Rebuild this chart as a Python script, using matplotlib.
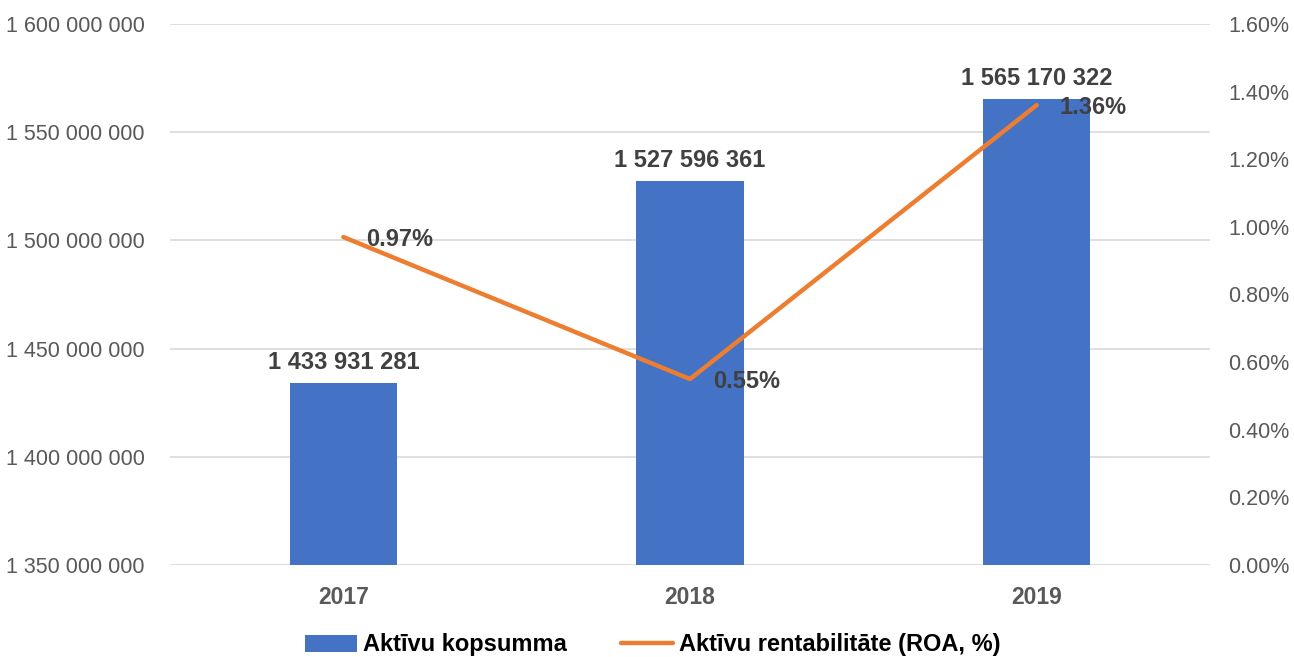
import matplotlib.pyplot as plt
from matplotlib.ticker import FuncFormatter, MultipleLocator

plt.rcParams['font.family'] = ['Liberation Sans', 'DejaVu Sans']

years = ["2017", "2018", "2019"]
total_assets = [1433931281, 1527596361, 1565170322]
roa_pct = [0.97, 0.55, 1.36]

BLUE = "#4472C4"
ORANGE = "#ED7D31"
LABEL = "#404040"
TICK = "#595959"


def spaced(v, pos=None):
    return f"{int(round(v)):,}".replace(",", " ")


fig = plt.figure(figsize=(12.94, 6.57), dpi=100)
ax = fig.add_axes([170 / 1294, 1 - 565 / 657, 1040 / 1294, 541 / 657])
ax2 = ax.twinx()

x = list(range(len(years)))
bars = ax.bar(x, total_assets, width=0.31, color=BLUE, zorder=2, label="Aktīvu kopsumma")
ax.set_xlim(-0.5, 2.5)
ax.set_ylim(1.35e9, 1.6e9)
ax.yaxis.set_major_locator(MultipleLocator(5e7))
ax.yaxis.set_major_formatter(FuncFormatter(spaced))
ax.grid(axis="y", color="#D9D9D9", lw=1.2, zorder=0)
ax.set_axisbelow(True)
ax.set_xticks(x)
ax.set_xticklabels(years, fontsize=16.5, fontweight="bold", color=TICK)
ax.tick_params(axis="x", length=0, pad=15)
ax.tick_params(axis="y", length=0, pad=18, labelsize=15.5, labelcolor=TICK)
for s in ax.spines.values():
    s.set_visible(False)

# value labels above bars
for xi, v in zip(x, total_assets):
    ax.annotate(spaced(v), (xi, v), xytext=(0, 9), textcoords="offset pixels",
                ha="center", va="bottom", fontsize=17, fontweight="bold", color=LABEL)

line, = ax2.plot(x, roa_pct, color=ORANGE, lw=3.2, solid_capstyle="round",
                 zorder=3, label="Aktīvu rentabilitāte (ROA, %)")
ax2.set_ylim(0, 1.6)
ax2.yaxis.set_major_locator(MultipleLocator(0.2))
ax2.yaxis.set_major_formatter(FuncFormatter(lambda v, p: f"{v:.2f}%"))
ax2.tick_params(axis="y", length=0, pad=13, labelsize=15.5, labelcolor=TICK)
for s in ax2.spines.values():
    s.set_visible(False)

# ROA labels to the right of points
for xi, v in zip(x, roa_pct):
    ax2.annotate(f"{v:.2f}%", (xi, v), xytext=(23, -2), textcoords="offset pixels",
                 ha="left", va="center", fontsize=17, fontweight="bold", color=LABEL)

fig.legend(handles=[bars, line], loc="center", bbox_to_anchor=(0.5 + 6 / 1294, 1 - 645 / 657),
           ncol=2, frameon=False, prop={"size": 17, "weight": "bold"},
           handlelength=2.2, handletextpad=0.25, columnspacing=2.3)

fig.savefig("out.png", dpi=100)
